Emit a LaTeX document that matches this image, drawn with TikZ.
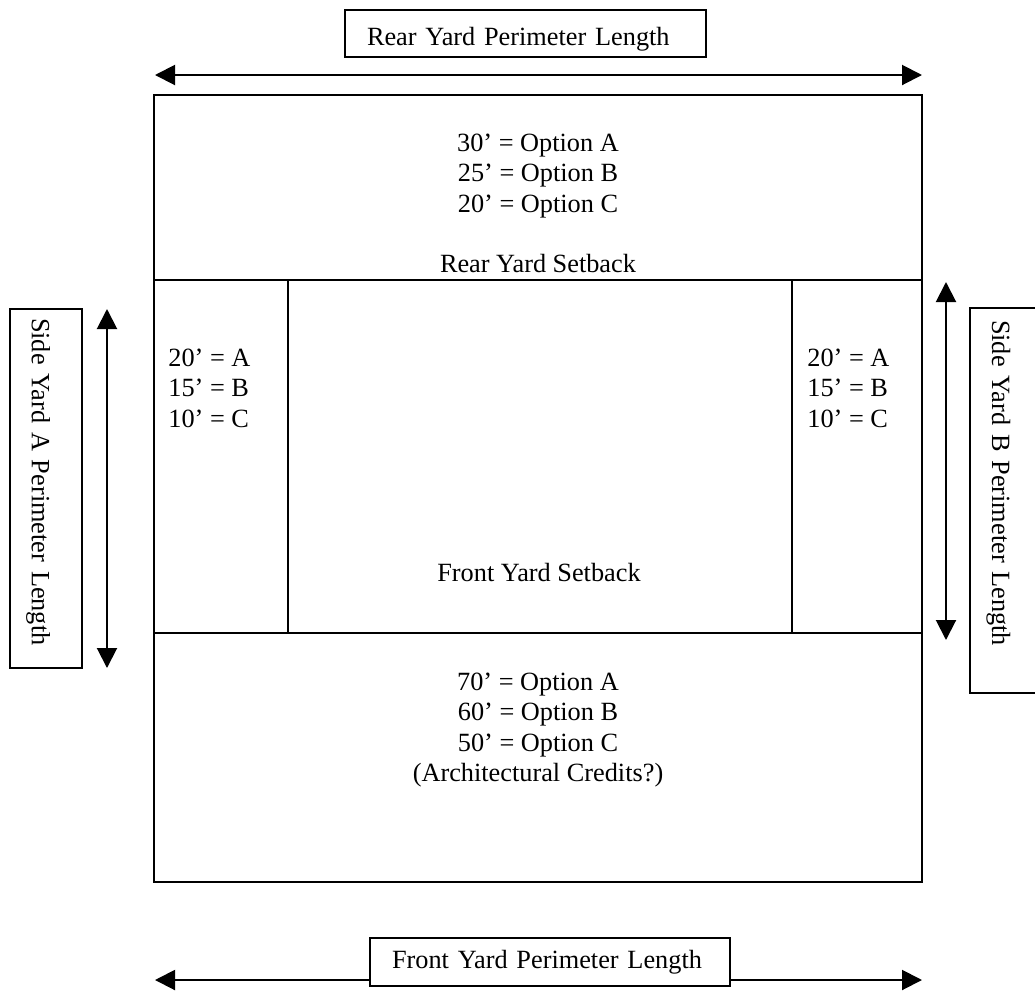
\documentclass[tikz,border=0pt]{standalone}
\usepackage{fontspec}
\setmainfont{Liberation Serif}
\usetikzlibrary{arrows.meta}
\begin{document}
\begin{tikzpicture}[x=0.5pt,y=-0.5pt,
  every node/.style={font=\fontsize{13.15pt}{15.2pt}\selectfont, inner sep=0pt},
  wall/.style={line width=1.4pt},
  dimline/.style={line width=1pt,{Triangle[length=10pt,width=10pt]}-{Triangle[length=10pt,width=10pt]}},
  lbox/.style={draw,line width=1pt,fill=white,align=left},
  ctext/.style={anchor=base},
  ltext/.style={anchor=base west}]
\useasboundingbox (0,0) rectangle (1035,992);
\clip (0,0) rectangle (1035,992);

% lot outline and setback lines
\coordinate (NW) at (154,95);
\coordinate (SE) at (922,882);
\coordinate (RL) at (154,280);
\coordinate (RR) at (922,280);
\coordinate (FL) at (154,633);
\coordinate (FR) at (922,633);
\coordinate (V1t) at (288,280);
\coordinate (V1b) at (288,633);
\coordinate (V2t) at (792,280);
\coordinate (V2b) at (792,633);
\draw[wall] (NW) rectangle (SE);
\draw[wall] (RL) -- (RR);
\draw[wall] (FL) -- (FR);
\draw[wall] (V1t) -- (V1b);
\draw[wall] (V2t) -- (V2b);

% dimension arrows
\coordinate (ta1) at (155,75);
\coordinate (ta2) at (922,75);
\coordinate (ba1) at (155,980);
\coordinate (ba2) at (922,980);
\coordinate (la1) at (107,309);
\coordinate (la2) at (107,668);
\coordinate (ra1) at (946,282);
\coordinate (ra2) at (946,640);
\draw[dimline] (ta1) -- (ta2);
\draw[dimline] (ba1) -- (ba2);
\draw[dimline] (la1) -- (la2);
\draw[dimline] (ra1) -- (ra2);

% label boxes
\node[lbox, inner xsep=11pt, text width=158.5pt, minimum height=23.5pt,
      text height=14.5pt, text depth=3pt] (rearlen) at (525.5,33.5) {Rear Yard Perimeter Length};
\node[lbox, inner xsep=11pt, text width=158pt, minimum height=24pt] (frontlen) at (550,962) {Front Yard Perimeter Length};
\node[lbox, rotate=-90, inner xsep=4.5pt, text width=170.5pt, minimum height=36pt,
      text height=17pt, text depth=3pt] (sidea) at (46,488.5) {Side Yard A Perimeter Length};
\node[lbox, rotate=-90, inner xsep=6pt, text width=180.5pt, minimum height=36pt,
      text height=17pt, text depth=3pt] (sideb) at (1006,500.5) {Side Yard B Perimeter Length};

% rear yard texts
\node[ctext] (r1) at (538,151) {30’ = Option A};
\node[ctext] (r2) at (538,181.5) {25’ = Option B};
\node[ctext] (r3) at (538,212) {20’ = Option C};
\node[ctext] (r4) at (538,272) {Rear Yard Setback};

% side yard texts
\node[ltext] (a1) at (168,366) {20’ = A};
\node[ltext] (a2) at (168,396.5) {15’ = B};
\node[ltext] (a3) at (168,427) {10’ = C};
\node[ltext] (b1) at (807,366) {20’ = A};
\node[ltext] (b2) at (807,396.5) {15’ = B};
\node[ltext] (b3) at (807,427) {10’ = C};

% front yard texts
\node[ctext] (f0) at (539,581) {Front Yard Setback};
\node[ctext] (f1) at (538,690) {70’ = Option A};
\node[ctext] (f2) at (538,720.5) {60’ = Option B};
\node[ctext] (f3) at (538,751) {50’ = Option C};
\node[ctext] (f4) at (538,781) {(Architectural Credits?)};
\end{tikzpicture}
\end{document}
